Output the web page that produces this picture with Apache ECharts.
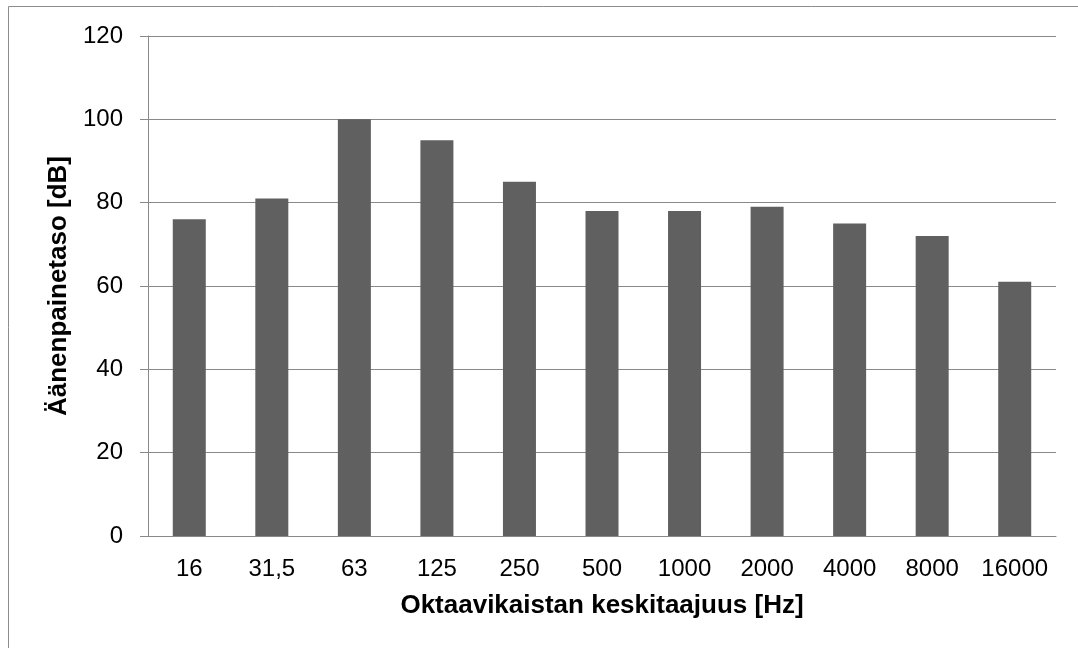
<!DOCTYPE html>
<html>
<head>
<meta charset="utf-8">
<script src="https://cdn.jsdelivr.net/npm/echarts@6/dist/echarts.min.js"></script>
<style>
  html, body { margin: 0; padding: 0; background: #fff; }
  #main { width: 1078px; height: 648px; }
</style>
</head>
<body>
<div id="main"></div>
<script>
  // octave band centre frequencies and sound pressure levels
  var categories = ['16', '31,5', '63', '125', '250', '500', '1000', '2000', '4000', '8000', '16000'];
  var levels = [76, 81, 100, 95, 85, 78, 78, 79, 75, 72, 61];

  var chart = echarts.init(document.getElementById('main'));
  var gridColor = '#898989';
  var font = '"Liberation Sans", Arial, sans-serif';

  var option = {
    animation: false,
    backgroundColor: '#fff',
    graphic: [{
      type: 'rect',
      shape: { x: 8.5, y: 6.5, width: 1200, height: 800 },
      style: { fill: 'none', stroke: '#8c8c8c', lineWidth: 1 }
    }],
    grid: { left: 148, right: 22, top: 36, bottom: 112 },
    xAxis: {
      type: 'category',
      data: categories,
      name: 'Oktaavikaistan keskitaajuus [Hz]',
      nameLocation: 'middle',
      nameGap: 57,
      nameTextStyle: { fontFamily: font, fontSize: 26, fontWeight: 'bold', color: '#000' },
      axisLine: { lineStyle: { color: gridColor, width: 1 } },
      axisTick: { show: false },
      axisLabel: { interval: 0, fontFamily: font, fontSize: 24, color: '#000', margin: 21 }
    },
    yAxis: {
      type: 'value',
      min: 0,
      max: 120,
      interval: 20,
      name: 'Äänenpainetaso [dB]',
      nameLocation: 'middle',
      nameGap: 70,
      nameRotate: 90,
      nameTextStyle: { fontFamily: font, fontSize: 26, fontWeight: 'bold', color: '#000' },
      axisLine: { show: true, lineStyle: { color: gridColor, width: 1 } },
      axisTick: { show: true, length: 8, lineStyle: { color: gridColor } },
      axisLabel: { fontFamily: font, fontSize: 24, color: '#000', margin: 25 },
      splitLine: { lineStyle: { color: gridColor, width: 1 } }
    },
    series: [{
      type: 'bar',
      data: levels,
      barWidth: 33,
      itemStyle: { color: '#606060' }
    }]
  };
  chart.setOption(option);
</script>
</body>
</html>
